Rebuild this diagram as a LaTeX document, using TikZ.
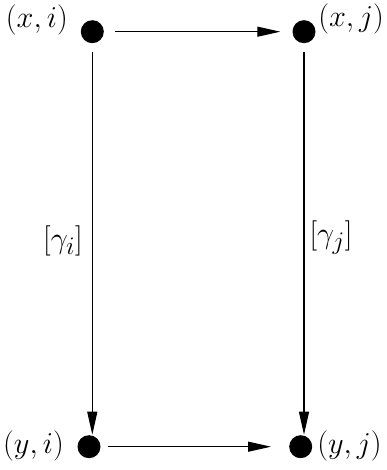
\documentclass[tikz,border=0pt]{standalone}
\usetikzlibrary{arrows.meta}
\begin{document}
\begin{tikzpicture}[x=1pt,y=1pt,
  dot/.style={circle,fill=black,inner sep=0pt,minimum size=23pt},
  lbl/.style={inner sep=0pt,font=\Huge,scale=1.22,transform shape},
  arr/.style={line width=1.1pt,-{Triangle[length=23pt,width=10pt]}}]
\useasboundingbox (0,0) rectangle (387,470);
\node[dot] (xi) at (92.3,438.3) {};
\node[dot] (xj) at (304,438.3) {};
\node[dot] (yi) at (89,23.3) {};
\node[dot] (yj) at (300.7,23.3) {};
\node[lbl,anchor=east] (lxi) at (68,450) {$(x,i)$};
\node[lbl,anchor=west] (lxj) at (318,451) {$(x,j)$};
\node[lbl,anchor=east] (lyi) at (64,24) {$(y,i)$};
\node[lbl,anchor=west] (lyj) at (317,24) {$(y,j)$};
\node[lbl] (gi) at (63,229) {$[\gamma_i]$};
\node[lbl] (gj) at (331,232) {$[\gamma_j]$};
\draw[arr,shorten <=11pt,shorten >=12pt] (xi) -- (xj);
\draw[arr,shorten <=7pt,shorten >=18pt] (yi) -- (yj);
\draw[arr,shorten <=9pt,shorten >=12pt] (xi) -- (xi |- yi);
\draw[arr,shorten <=9pt,shorten >=12pt] (xj) -- (xj |- yj);
\end{tikzpicture}
\end{document}
